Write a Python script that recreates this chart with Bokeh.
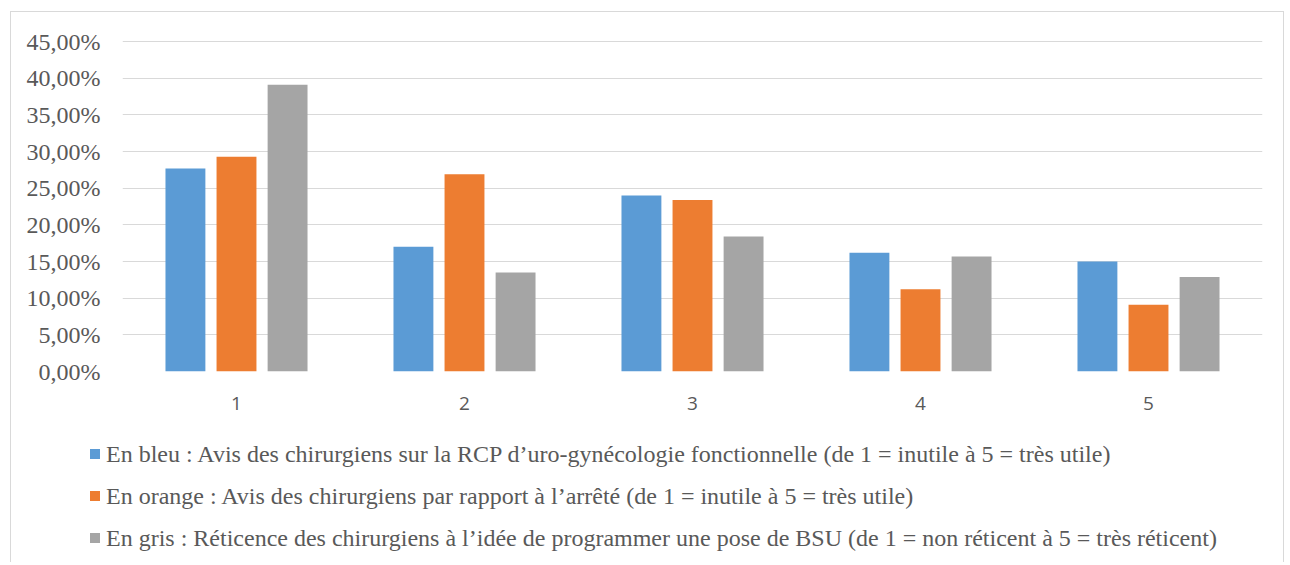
from bokeh.plotting import figure
from bokeh.layouts import column
from bokeh.models import (ColumnDataSource, FactorRange, Range1d, FixedTicker,
                          CustomJSTickFormatter, Div)
from bokeh.transform import dodge
from bokeh.embed import file_html
from bokeh.resources import INLINE

categories = ["1", "2", "3", "4", "5"]
bleu = [27.7, 17.0, 24.0, 16.2, 15.0]
orange = [29.3, 26.9, 23.4, 11.2, 9.1]
gris = [39.1, 13.5, 18.4, 15.7, 12.9]
y_ticks = [0, 5, 10, 15, 20, 25, 30, 35, 40, 45]
legend_labels = [
    "En bleu : Avis des chirurgiens sur la RCP d\u2019uro-gyn\u00e9cologie fonctionnelle (de 1 = inutile \u00e0 5 = tr\u00e8s utile)",
    "En orange : Avis des chirurgiens par rapport \u00e0 l\u2019arr\u00eat\u00e9 (de 1 = inutile \u00e0 5 = tr\u00e8s utile)",
    "En gris : R\u00e9ticence des chirurgiens \u00e0 l\u2019id\u00e9e de programmer une pose de BSU (de 1 = non r\u00e9ticent \u00e0 5 = tr\u00e8s r\u00e9ticent)",
]
colors = ["#5B9BD5", "#ED7D31", "#A5A5A5"]
series = ["bleu", "orange", "gris"]

src = ColumnDataSource(dict(cat=categories, bleu=bleu, orange=orange, gris=gris))

p = figure(x_range=FactorRange(factors=categories, range_padding=0),
           y_range=Range1d(0, 45.14),
           width=1272, height=410,
           output_backend="svg", toolbar_location=None,
           min_border_left=111, min_border_right=21,
           min_border_top=28, min_border_bottom=51)

offsets = [-0.224, 0.0, 0.224]
for col, off, c in zip(series, offsets, colors):
    p.vbar(x=dodge("cat", off, range=p.x_range), top=col, width=0.175,
           source=src, fill_color=c, line_color=None)

p.outline_line_color = None
p.background_fill_color = "white"
p.border_fill_color = "white"

p.xgrid.grid_line_color = None
p.ygrid.grid_line_color = "#d9d9d9"
p.ygrid.grid_line_width = 1

p.yaxis.ticker = FixedTicker(ticks=y_ticks)
p.yaxis.formatter = CustomJSTickFormatter(code="return tick.toFixed(2).replace('.', ',') + '%';")
p.yaxis.axis_line_color = None
p.yaxis.major_tick_line_color = None
p.yaxis.minor_tick_line_color = None
p.yaxis.major_tick_out = 0
p.yaxis.major_label_standoff = 22
p.yaxis.major_label_text_font = "Liberation Serif"
p.yaxis.major_label_text_font_size = "24px"
p.yaxis.major_label_text_color = "#595959"

p.xaxis.axis_line_color = None
p.xaxis.major_tick_line_color = None
p.xaxis.minor_tick_line_color = None
p.xaxis.major_tick_out = 0
p.xaxis.major_label_standoff = 25
p.xaxis.major_label_text_font = "Open Sans"
p.xaxis.major_label_text_font_size = "19px"
p.xaxis.major_label_text_color = "#595959"

# Legend block (colour key + labels) built from the series colours and labels
rows = []
for lab, c in zip(legend_labels, colors):
    rows.append(
        '<div style="height:42px;display:flex;align-items:center;white-space:nowrap;">'
        f'<span style="display:inline-block;width:10px;height:10px;background:{c};margin-right:6px;"></span>'
        f'<span>{lab}</span></div>'
    )
legend_html = ('<div style="padding:11px 0 0 79px;font-family:\'Liberation Serif\';'
               'font-size:24px;color:#595959;line-height:1;">' + "".join(rows) + '</div>')
legend_div = Div(text=legend_html, width=1272, height=140, margin=0)

layout = column(p, legend_div, spacing=0)
layout.margin = (11, 0, 0, 10)
layout.styles = {"border-left": "1px solid #d9d9d9",
                 "border-top": "1px solid #d9d9d9",
                 "border-right": "1px solid #d9d9d9",
                 "background": "white"}

open("out.html", "w").write(file_html(layout, INLINE))
